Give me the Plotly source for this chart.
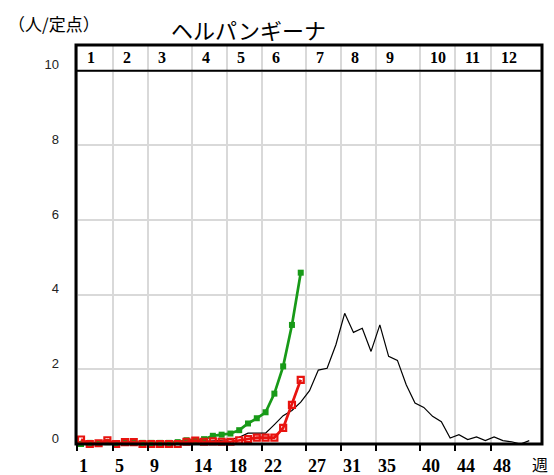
import plotly.graph_objects as go

# ---- data -------------------------------------------------------------
WEEKS_PREV = list(range(1, 53))
PREV = [0.05, 0.03, 0.04, 0.03, 0.02, 0.03, 0.02, 0.02, 0.02, 0.02,
        0.03, 0.03, 0.04, 0.05, 0.06, 0.08, 0.10, 0.12, 0.18, 0.29,
        0.29, 0.29, 0.52, 0.76, 0.90, 1.12, 1.43, 1.98, 2.03, 2.66,
        3.50, 2.99, 3.10, 2.48, 3.19, 2.35, 2.24, 1.59, 1.10, 0.98,
        0.74, 0.60, 0.16, 0.25, 0.12, 0.19, 0.09, 0.19, 0.09, 0.06,
        0.00, 0.09]

WEEKS_NOW = list(range(1, 27))
GREEN = [0.00, 0.03, 0.02, 0.05, 0.00, 0.04, 0.04, 0.03, 0.03, 0.03,
         0.03, 0.05, 0.10, 0.10, 0.13, 0.22, 0.25, 0.28, 0.37, 0.55,
         0.69, 0.85, 1.35, 2.08, 3.19, 4.59]
RED = [0.12, 0.00, 0.02, 0.10, 0.00, 0.05, 0.05, 0.00, 0.00, 0.00,
       0.00, 0.00, 0.06, 0.09, 0.06, 0.07, 0.06, 0.06, 0.10, 0.13,
       0.17, 0.17, 0.17, 0.43, 1.05, 1.72]

TICK_WEEKS = [1, 5, 9, 14, 18, 22, 27, 31, 35, 40, 44, 48]
MONTHS = ["1", "2", "3", "4", "5", "6", "7", "8", "9", "10", "11", "12"]
Y_TICKS = [0, 2, 4, 6, 8, 10]

TITLE = "ヘルパンギーナ"
UNIT = "（人/定点）"
WEEK_UNIT = "週"

# ---- layout constants --------------------------------------------------
TICK_OFFSET = -0.4
TICK_POS = [w + TICK_OFFSET for w in TICK_WEEKS]
X_RANGE = [0.43, 53.45]
Y_RANGE = [0, 10.69]
BAND_MID = 10.345

GREEN_C = "#189a18"
RED_C = "#e8130f"
GRID_C = "#d9d9d9"

fig = go.Figure()
fig.add_trace(go.Scatter(x=WEEKS_PREV, y=PREV, mode="lines",
                         line=dict(color="black", width=1.2),
                         cliponaxis=False, hoverinfo="skip"))
fig.add_trace(go.Scatter(x=WEEKS_NOW, y=GREEN, mode="lines+markers",
                         line=dict(color=GREEN_C, width=2.7),
                         marker=dict(symbol="square", size=6, color=GREEN_C),
                         cliponaxis=False))
fig.add_trace(go.Scatter(x=WEEKS_NOW, y=RED, mode="lines+markers",
                         line=dict(color=RED_C, width=2.7),
                         marker=dict(symbol="square-open", size=6, color=RED_C,
                                     line=dict(width=2.2, color=RED_C)),
                         cliponaxis=False))

annotations = []
# month labels in the top band
for pos, m in zip(TICK_POS, MONTHS):
    annotations.append(dict(x=pos, y=BAND_MID, xref="x", yref="y", text=m,
                            showarrow=False, xanchor="left", yanchor="middle",
                            xshift=8,
                            font=dict(family="Liberation Serif", size=16,
                                      color="black", weight="bold")))
# week tick labels
for pos, w in zip(TICK_POS, TICK_WEEKS):
    annotations.append(dict(x=pos, y=0, xref="x", yref="paper", text=str(w),
                            showarrow=False, xanchor="left", yanchor="top",
                            xshift=0, yshift=-10,
                            font=dict(family="Liberation Serif", size=18,
                                      color="black", weight="bold")))
annotations.append(dict(x=1, y=0, xref="paper", yref="paper", text=WEEK_UNIT,
                        showarrow=False, xanchor="right", yanchor="top",
                        xshift=7, yshift=-7, borderpad=0,
                        font=dict(family="Noto Sans CJK JP", size=16, color="black")))
annotations.append(dict(x=0.371, y=1, xref="paper", yref="paper", text=TITLE,
                        showarrow=False, xanchor="center", yanchor="middle",
                        yshift=16,
                        font=dict(family="Noto Sans CJK JP", size=22, color="black")))
annotations.append(dict(x=-0.047, y=1, xref="paper", yref="paper", text=UNIT,
                        showarrow=False, xanchor="center", yanchor="middle",
                        yshift=22,
                        font=dict(family="Noto Sans CJK JP", size=17, color="black")))

fig.update_layout(
    width=554, height=475,
    margin=dict(l=76, r=12, t=45, b=31),
    plot_bgcolor="white", paper_bgcolor="white",
    showlegend=False,
    annotations=annotations,
    shapes=[
        dict(type="line", xref="paper", yref="y", x0=0, x1=1, y0=10, y1=10,
             line=dict(color="black", width=2)),
        dict(type="rect", xref="paper", yref="paper", x0=0, x1=1, y0=0, y1=1,
             line=dict(color="black", width=3)),
    ],
    xaxis=dict(range=X_RANGE, tickvals=TICK_POS, showticklabels=False,
               ticks="outside", ticklen=6, tickwidth=2, tickcolor="black",
               showgrid=True, gridcolor=GRID_C, gridwidth=1.5,
               zeroline=False, showline=False, fixedrange=True),
    yaxis=dict(range=Y_RANGE, tickvals=Y_TICKS, ticktext=[str(v) for v in Y_TICKS],
               ticks="", showgrid=True, gridcolor=GRID_C, gridwidth=1.5,
               zeroline=False, showline=False,
               tickfont=dict(family="Liberation Sans", size=13, color="#222"),
               ticklabelstandoff=16, ticklabelshift=-6, fixedrange=True),
)

fig.write_html("out.html",
               config={"displayModeBar": False},
               post_script="document.body.style.margin='0';"
                           "document.body.style.overflow='hidden';")
